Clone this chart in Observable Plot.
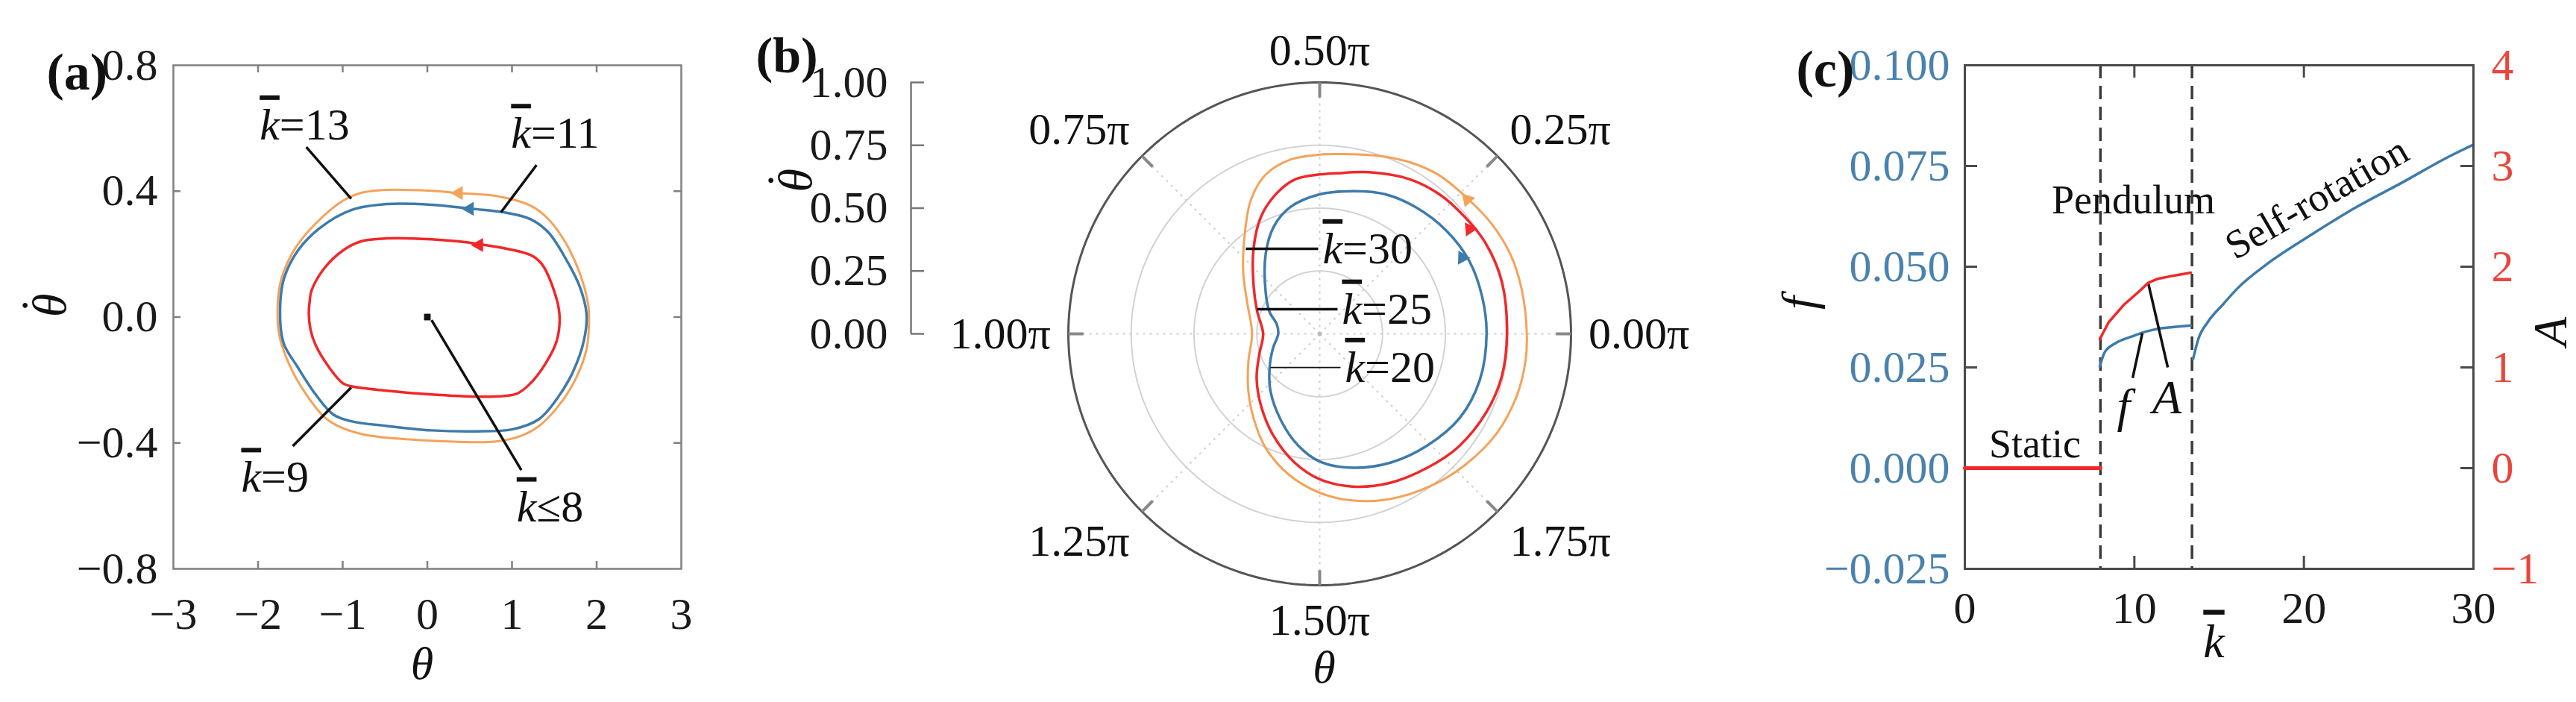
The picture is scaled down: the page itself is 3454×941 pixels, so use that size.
<!DOCTYPE html>
<html>
<head>
<meta charset="utf-8">
<script src="https://cdn.jsdelivr.net/npm/d3@7"></script>
<script src="https://cdn.jsdelivr.net/npm/@observablehq/plot@0.6"></script>
<style>
  html, body { margin: 0; padding: 0; background: #fff; }
  #root { position: relative; width: 3454px; height: 941px; overflow: hidden; background: #fff; }
  .panel { position: absolute; top: 0; }
  .panel svg { display: block; max-width: none !important; }
</style>
</head>
<body>
<div id="root"></div>
<script>
const KB = "k\u0304"; // k with bar (rendered as italic k with overline)

// ---------------- Panel (a): phase trajectories (theta, theta-dot) ----------------
const aThetaK9  = [-1.40,-1.39,-1.37,-1.22,-1.00,-0.79,-0.48,0.05,0.58,1.22,1.35,1.48,1.56,1.53,1.40,1.22,1.06,0.74,0.05,-0.48,-0.90,-1.00,-1.16,-1.32,-1.38];
const aDThetaK9 = [0.011,0.050,0.083,0.154,0.211,0.240,0.250,0.247,0.233,0.197,0.169,0.097,0.011,-0.074,-0.146,-0.210,-0.243,-0.253,-0.246,-0.234,-0.220,-0.210,-0.160,-0.089,-0.040];
const aThetaK11  = [-1.74,-1.73,-1.69,-1.53,-1.27,-0.90,-0.48,0.05,0.53,0.90,1.22,1.43,1.64,1.80,1.88,1.85,1.72,1.53,1.32,1.00,0.58,0.05,-0.48,-0.90,-1.11,-1.32,-1.53,-1.69,-1.73];
const aDThetaK11 = [0.011,0.070,0.126,0.211,0.283,0.340,0.359,0.357,0.344,0.333,0.311,0.269,0.183,0.097,0.011,-0.074,-0.174,-0.260,-0.324,-0.357,-0.363,-0.360,-0.346,-0.331,-0.310,-0.246,-0.160,-0.089,-0.040];
const aThetaK13  = [-1.77,-1.76,-1.72,-1.56,-1.32,-1.00,-0.79,-0.48,0.05,0.37,0.85,1.22,1.43,1.64,1.80,1.90,1.91,1.88,1.74,1.53,1.32,1.11,0.79,0.32,-0.21,-0.74,-1.06,-1.22,-1.43,-1.59,-1.72,-1.76];
const aDThetaK13 = [0.011,0.070,0.126,0.219,0.297,0.369,0.394,0.404,0.401,0.394,0.383,0.354,0.311,0.233,0.140,0.040,-0.017,-0.103,-0.203,-0.289,-0.346,-0.377,-0.396,-0.396,-0.389,-0.374,-0.346,-0.317,-0.246,-0.174,-0.089,-0.040];
const aFixedTheta = [0];   // k <= 8 : static equilibrium
const aFixedDTheta = [0];
const aArrowTheta  = [0.61, 0.50, 0.37];   // k = 9, 11, 13
const aArrowDTheta = [0.229, 0.344, 0.394];
const aXTicks = [-3, -2, -1, 0, 1, 2, 3];
const aYTicks = [-0.8, -0.4, 0, 0.4, 0.8];
const aNoteText = [KB + "=13", KB + "=11", KB + "=9", KB + "\u22648"];
const aNoteX  = [-1.45, 1.51, -1.80, 1.45];
const aNoteY  = [0.61, 0.583, -0.51, -0.603];
const aLeadX1 = [-1.43, 1.29, -1.59, 1.11];
const aLeadY1 = [0.54, 0.483, -0.41, -0.486];
const aLeadX2 = [-0.90, 0.87, -0.90, 0.05];
const aLeadY2 = [0.376, 0.333, -0.224, -0.01];

// ---------------- Panel (b): polar trajectories (theta in units of pi, radius = theta-dot) ----------------
const bT20 = [0,0.072,0.144,0.217,0.294,0.361,0.422,0.5,0.572,0.628,0.689,0.789,0.867,0.933,1.0,1.094,1.183,1.272,1.367,1.439,1.5,1.578,1.661,1.744,1.828,1.911];
const bR20 = [0.664,0.663,0.662,0.650,0.632,0.613,0.585,0.555,0.518,0.465,0.384,0.273,0.219,0.174,0.165,0.194,0.237,0.299,0.378,0.452,0.508,0.549,0.585,0.617,0.650,0.663];
const bT25 = [0,0.089,0.161,0.217,0.272,0.333,0.406,0.467,0.5,0.55,0.597,0.648,0.711,0.8,0.889,1.0,1.1,1.194,1.283,1.364,1.439,1.5,1.567,1.639,1.717,1.783,1.861,1.928];
const bR25 = [0.745,0.754,0.752,0.741,0.732,0.711,0.672,0.642,0.634,0.622,0.582,0.521,0.428,0.325,0.265,0.225,0.252,0.306,0.370,0.445,0.522,0.578,0.621,0.655,0.684,0.712,0.733,0.744];
const bT30 = [0,0.067,0.125,0.181,0.233,0.294,0.344,0.4,0.464,0.5,0.553,0.604,0.65,0.7,0.783,0.872,1.0,1.117,1.214,1.289,1.359,1.433,1.5,1.561,1.628,1.7,1.767,1.837,1.903,1.958];
const bR30 = [0.824,0.823,0.822,0.812,0.798,0.790,0.772,0.745,0.720,0.713,0.703,0.669,0.601,0.505,0.392,0.313,0.269,0.304,0.363,0.427,0.502,0.575,0.632,0.675,0.714,0.749,0.779,0.808,0.822,0.826];
const bArrowT = [0.156, 0.194, 0.235];   // k = 20, 25, 30
const bArrowR = [0.643, 0.727, 0.794];
const bRadialTicks = [0, 0.25, 0.5, 0.75, 1];
const bGridR = [0.25, 0.5, 0.75];
const bAngleTicks = [0, 0.25, 0.5, 0.75, 1, 1.25, 1.5, 1.75];
const bAngleLabels = ["0.00\u03c0", "0.25\u03c0", "0.50\u03c0", "0.75\u03c0", "1.00\u03c0", "1.25\u03c0", "1.50\u03c0", "1.75\u03c0"];
const bNoteText = [KB + "=30", KB + "=25", KB + "=20"];
const bLeadX1 = [-0.294, -0.249, -0.196];
const bLeadX2 = [-0.006, 0.071, 0.083];
const bLeadY  = [0.338, 0.098, -0.134];

// ---------------- Panel (c): frequency f and amplitude A vs k ----------------
const cKStatic = [0, 8];
const cAStatic = [0, 0];
const cKPendA = [7.96, 8.49, 9.37, 10.25, 10.82, 11.39, 12.27, 13.33];
const cAPend  = [1.28, 1.45, 1.62, 1.75, 1.84, 1.88, 1.91, 1.94];
const cKPendF = [7.96, 8.27, 8.93, 9.81, 10.69, 11.39, 12.27, 13.33];
const cFPend  = [0.0252, 0.0289, 0.0311, 0.0326, 0.0339, 0.0346, 0.0350, 0.0354];
const cKRot = [13.46, 13.77, 14.34, 15.22, 16.1, 17.9, 20.5, 23.1, 25.8, 28.4, 30];
const cFRot = [0.027, 0.032, 0.0363, 0.0406, 0.0447, 0.0509, 0.0581, 0.0648, 0.0709, 0.077, 0.0803];
const cBounds = [8, 13.4];
const cXTicks = [0, 10, 20, 30];
const cFTicks = [-0.025, 0, 0.025, 0.05, 0.075, 0.1];
const cATicks = [-1, 0, 1, 2, 3, 4];
const cRegimeText = ["Pendulum", "Static", "Self-rotation"];
const cRegimeK = [9.94, 4.13, 20.76];
const cRegimeF = [0.0665, 0.0059, 0.067];
const cNoteText = ["f", "A"];
const cNoteK = [9.37, 11.92];
const cNoteF = [0.0154, 0.0174];
const cLeadK1 = [9.90, 11.97];
const cLeadF1 = [0.0224, 0.025];
const cLeadK2 = [10.47, 10.82];
const cLeadF2 = [0.0335, 0.0459];

// ---------------- styling ----------------
const SERIF = "'Liberation Serif','Times New Roman',Times,serif";
const FS = 60;
const RED = "#f0282a", BLUE = "#3d7bab", ORANGE = "#f5a25a";
const AXBLUE = "#4a82ad", AXRED = "#e8463c";
const baseStyle = {fontFamily: SERIF, fontSize: FS + "px", background: "transparent", color: "#111", overflow: "visible"};
const H = 941;
const fmtInt = d3.format("d");

const zipPts = (xs, ys) => xs.map((x, i) => ({x, y: ys[i]}));
const root = document.getElementById("root");

function kbar(svg) {
  svg.querySelectorAll("text").forEach(el => {
    const s = el.textContent;
    if (!s.includes(KB) || el.querySelector("tspan")) return;
    el.textContent = "";
    s.split(KB).forEach((p, i) => {
      if (i > 0) {
        const ts = document.createElementNS("http://www.w3.org/2000/svg", "tspan");
        ts.setAttribute("style", "font-style:italic;text-decoration:overline;");
        ts.textContent = "k";
        el.appendChild(ts);
      }
      if (p) el.appendChild(document.createTextNode(p));
    });
  });
}
function mount(svg, left, width) {
  const div = document.createElement("div");
  div.className = "panel";
  div.style.left = left + "px";
  div.style.width = width + "px";
  svg.setAttribute("font-family", SERIF);
  svg.style.fontFamily = SERIF;
  svg.querySelectorAll("text").forEach(t => { t.style.fontFamily = SERIF; });
  kbar(svg);
  div.appendChild(svg);
  root.appendChild(div);
}
// theta-dot axis title: theta with a dot placed above it (title is rotated -90deg)
function thetaDot(opts) {
  return [
    Plot.text(["\u03b8"], {...opts, rotate: -90, fontStyle: "italic", fontSize: 64, fill: "#111"}),
    Plot.text(["\u02d9"], {...opts, dx: opts.dx - 16, dy: (opts.dy || 0) - 5, rotate: -90, fontSize: 64, fill: "#111"})
  ];
}

// ================= Panel (a) =================
{
  const W = 960, ML = 232, MR = 47, MT = 87, MB = 179;
  const IW = W - ML - MR, IH = H - MT - MB, TL = 10;
  const inX = aXTicks.slice(1, -1), inY = aYTicks.slice(1, -1);
  const frameColor = "#808080";
  const series = [
    {x: aThetaK13, y: aDThetaK13, c: ORANGE, w: 3},
    {x: aThetaK11, y: aDThetaK11, c: BLUE, w: 3.5},
    {x: aThetaK9,  y: aDThetaK9,  c: RED, w: 3.5}
  ];
  const arrowColors = [RED, BLUE, ORANGE];
  const notes = aNoteText.map((t, i) => ({t, x: aNoteX[i], y: aNoteY[i]}));
  const leads = aLeadX1.map((x1, i) => ({x1, y1: aLeadY1[i], x2: aLeadX2[i], y2: aLeadY2[i]}));
  const svg = Plot.plot({
    width: W, height: H, marginLeft: ML, marginRight: MR, marginTop: MT, marginBottom: MB,
    x: {domain: [-3, 3], axis: null}, y: {domain: [-0.8, 0.8], axis: null},
    style: baseStyle,
    marks: [
      ...series.map(s => Plot.line(zipPts(s.x, s.y), {x: "x", y: "y", stroke: s.c, strokeWidth: s.w, curve: "catmull-rom-closed"})),
      ...aArrowTheta.map((t, i) => Plot.dot([{x: t, y: aArrowDTheta[i]}], {x: "x", y: "y", symbol: "triangle", r: 7, fill: arrowColors[i], stroke: "none", rotate: -90})),
      Plot.dot(zipPts(aFixedTheta, aFixedDTheta), {x: "x", y: "y", symbol: "square", r: 5, fill: "#111"}),
      Plot.link(leads, {x1: "x1", y1: "y1", x2: "x2", y2: "y2", stroke: "#111", strokeWidth: 3.5}),
      Plot.text(notes, {x: "x", y: "y", text: "t", fontSize: FS, fill: "#111"}),
      Plot.frame({stroke: frameColor, strokeWidth: 2.5}),
      Plot.tickX(inX, {x: d => d, insetTop: IH - TL, stroke: frameColor, strokeWidth: 2.5}),
      Plot.tickX(inX, {x: d => d, insetBottom: IH - TL, stroke: frameColor, strokeWidth: 2.5}),
      Plot.tickY(inY, {y: d => d, insetRight: IW - TL, stroke: frameColor, strokeWidth: 2.5}),
      Plot.tickY(inY, {y: d => d, insetLeft: IW - TL, stroke: frameColor, strokeWidth: 2.5}),
      Plot.axisX(aXTicks, {anchor: "bottom", tickSize: 0, tickPadding: 38, tickFormat: fmtInt, label: null, color: "#1a1a1a"}),
      Plot.axisY(aYTicks, {anchor: "left", tickSize: 0, tickPadding: 21, tickFormat: d3.format(".1f"), label: null, color: "#1a1a1a"}),
      ...thetaDot({frameAnchor: "left", dx: -165, dy: 0}),
      Plot.text(["\u03b8"], {frameAnchor: "bottom", dx: -7, dy: 147, fontStyle: "italic", fontSize: 62, fill: "#111"}),
      Plot.text(["(a)"], {frameAnchor: "top-left", dx: -170, dy: -17, fontWeight: "bold", fontSize: 70, fill: "#111"})
    ]
  });
  mount(svg, 0, W);
}

// ================= Panel (b): radial axis =================
{
  const W = 260, ML = 221, MR = 19, MT = 110, MB = 494;
  const IW = W - ML - MR;
  const svg = Plot.plot({
    width: W, height: H, marginLeft: ML, marginRight: MR, marginTop: MT, marginBottom: MB,
    x: {domain: [0, 1], axis: null}, y: {domain: [0, 1], axis: null},
    style: baseStyle,
    marks: [
      Plot.ruleX([0], {y1: 0, y2: 1, stroke: "#777", strokeWidth: 2.5}),
      Plot.tickY(bRadialTicks, {y: d => d, insetRight: IW - 18, stroke: "#777", strokeWidth: 2.5}),
      Plot.axisY(bRadialTicks, {anchor: "left", tickSize: 0, tickPadding: 31, tickFormat: d3.format(".2f"), label: null, color: "#1a1a1a"}),
      ...thetaDot({frameAnchor: "top-left", dx: -179, dy: 147}),
      Plot.text(["(b)"], {frameAnchor: "top-left", dx: -208, dy: -62, fontWeight: "bold", fontSize: 68, fill: "#111"})
    ]
  });
  mount(svg, 1000, W);
}

// ================= Panel (b): polar plot =================
{
  const W = 1000, ML = 152, MR = 174, MT = 110, MB = 157;
  const PI = Math.PI;
  const px = d => d.r * Math.cos(d.t * PI);
  const py = d => d.r * Math.sin(d.t * PI);
  const circle = r => d3.range(0, 2.0001, 1 / 120).map(t => ({r, t}));
  const gridData = bGridR.flatMap(r => circle(r));
  const series = [
    {t: bT30, r: bR30, c: ORANGE, w: 3},
    {t: bT25, r: bR25, c: RED, w: 3.5},
    {t: bT20, r: bR20, c: BLUE, w: 3.5}
  ];
  const arrowColors = [BLUE, RED, ORANGE];
  const leads = bLeadX1.map((x1, i) => ({x1, x2: bLeadX2[i], y: bLeadY[i], t: bNoteText[i], w: i === 2 ? 1.8 : 3.5}));
  const LR = 1.07;
  const angleMarks = bAngleTicks.map((t, i) => {
    const c = Math.cos(t * PI), s = Math.sin(t * PI);
    return Plot.text([{t, r: LR, label: bAngleLabels[i]}], {
      x: px, y: py, text: "label", fontSize: FS, fill: "#111",
      textAnchor: c > 0.1 ? "start" : c < -0.1 ? "end" : "middle",
      lineAnchor: s > 0.1 ? "bottom" : s < -0.1 ? "top" : "middle"
    });
  });
  const svg = Plot.plot({
    width: W, height: H, marginLeft: ML, marginRight: MR, marginTop: MT, marginBottom: MB,
    x: {domain: [-1, 1], axis: null}, y: {domain: [-1, 1], axis: null},
    style: baseStyle,
    marks: [
      Plot.line(gridData, {x: px, y: py, z: "r", stroke: "#d2d2d2", strokeWidth: 2}),
      Plot.link(bAngleTicks.map(t => ({t})), {x1: 0, y1: 0, x2: d => Math.cos(d.t * PI), y2: d => Math.sin(d.t * PI), stroke: "#cfcfcf", strokeWidth: 2, strokeDasharray: "3,6"}),
      Plot.line(circle(1), {x: px, y: py, stroke: "#555", strokeWidth: 3}),
      Plot.link(bAngleTicks.map(t => ({t})), {x1: d => 0.94 * Math.cos(d.t * PI), y1: d => 0.94 * Math.sin(d.t * PI), x2: d => Math.cos(d.t * PI), y2: d => Math.sin(d.t * PI), stroke: "#888", strokeWidth: 4}),
      Plot.dot([{t: 0, r: 0}], {x: px, y: py, r: 3, fill: "#bbb"}),
      ...series.map(s => Plot.line(s.t.map((t, i) => ({t, r: s.r[i]})), {x: px, y: py, stroke: s.c, strokeWidth: s.w, curve: "catmull-rom-closed"})),
      ...bArrowT.map((t, i) => Plot.dot([{t, r: bArrowR[i]}], {x: px, y: py, symbol: "triangle", r: 7, fill: arrowColors[i], stroke: "none", rotate: -t * 180})),
      ...leads.map(l => Plot.link([l], {x1: "x1", x2: "x2", y1: "y", y2: "y", stroke: "#111", strokeWidth: l.w})),
      Plot.text(leads, {x: "x2", y: "y", text: "t", textAnchor: "start", dx: 6, fontSize: FS, fill: "#111"}),
      ...angleMarks,
      Plot.text(["\u03b8"], {frameAnchor: "bottom", dx: 6, dy: 130, fontStyle: "italic", fontSize: 62, fill: "#111"})
    ]
  });
  mount(svg, 1280, W);
}

// ================= Panel (c): f (left axis) =================
const cW = 1054, cML = 234, cMR = 138, cMT = 87, cMB = 179;
const cIW = cW - cML - cMR, cIH = H - cMT - cMB, cTL = 17;
const cFrame = "#4a4a4a";
{
  const inX = cXTicks.slice(1, -1), inF = cFTicks.slice(1, -1);
  const regimes = cRegimeText.map((t, i) => ({t, k: cRegimeK[i], f: cRegimeF[i]}));
  const notes = cNoteText.map((t, i) => ({t, k: cNoteK[i], f: cNoteF[i]}));
  const leads = cLeadK1.map((k1, i) => ({k1, f1: cLeadF1[i], k2: cLeadK2[i], f2: cLeadF2[i]}));
  const svg = Plot.plot({
    width: cW, height: H, marginLeft: cML, marginRight: cMR, marginTop: cMT, marginBottom: cMB,
    x: {domain: [0, 30], axis: null}, y: {domain: [-0.025, 0.1], axis: null},
    style: baseStyle,
    marks: [
      Plot.text(regimes.slice(0, 2), {x: "k", y: "f", text: "t", fontSize: 54, fill: "#111"}),
      Plot.text(regimes.slice(2), {x: "k", y: "f", text: "t", fontSize: 54, fill: "#111", rotate: -30}),
      Plot.ruleX(cBounds, {x: d => d, stroke: "#3a3a3a", strokeWidth: 3.5, strokeDasharray: "18,10"}),
      Plot.line(zipPts(cKPendF, cFPend), {x: "x", y: "y", stroke: BLUE, strokeWidth: 3.5, curve: "monotone-x"}),
      Plot.line(zipPts(cKRot, cFRot), {x: "x", y: "y", stroke: BLUE, strokeWidth: 3.5, curve: "monotone-x"}),
      Plot.link(leads, {x1: "k1", y1: "f1", x2: "k2", y2: "f2", stroke: "#111", strokeWidth: 3.5}),
      Plot.text(notes, {x: "k", y: "f", text: "t", fontSize: 64, fontStyle: "italic", fill: "#111"}),
      Plot.frame({stroke: cFrame, strokeWidth: 3}),
      Plot.tickX(inX, {x: d => d, insetTop: cIH - cTL, stroke: cFrame, strokeWidth: 3}),
      Plot.tickX(inX, {x: d => d, insetBottom: cIH - cTL, stroke: cFrame, strokeWidth: 3}),
      Plot.tickY(inF, {y: d => d, insetRight: cIW - cTL, stroke: cFrame, strokeWidth: 3}),
      Plot.axisX(cXTicks, {anchor: "bottom", tickSize: 0, tickPadding: 30, tickFormat: fmtInt, label: null, color: "#1a1a1a"}),
      Plot.axisY(cFTicks, {anchor: "left", tickSize: 0, tickPadding: 20, tickFormat: d3.format(".3f"), label: null, color: AXBLUE}),
      Plot.text(["f"], {frameAnchor: "left", dx: -222, dy: -10, rotate: -90, fontStyle: "italic", fontSize: 64, fill: "#111"}),
      Plot.text([KB], {frameAnchor: "bottom", dx: -7, dy: 118, fontSize: 64, fill: "#111"}),
      Plot.text(["(c)"], {frameAnchor: "top-left", dx: -226, dy: -21, fontWeight: "bold", fontSize: 70, fill: "#111"})
    ]
  });
  mount(svg, 2400, cW);
}

// ================= Panel (c): A (right axis) =================
{
  const inA = cATicks.slice(1, -1);
  const svg = Plot.plot({
    width: cW, height: H, marginLeft: cML, marginRight: cMR, marginTop: cMT, marginBottom: cMB,
    x: {domain: [0, 30], axis: null}, y: {domain: [-1, 4], axis: null},
    style: baseStyle,
    marks: [
      Plot.line(zipPts(cKStatic, cAStatic), {x: "x", y: "y", stroke: RED, strokeWidth: 5}),
      Plot.line(zipPts(cKPendA, cAPend), {x: "x", y: "y", stroke: RED, strokeWidth: 3.5}),
      Plot.tickY(inA, {y: d => d, insetLeft: cIW - cTL, stroke: cFrame, strokeWidth: 3}),
      Plot.axisY(cATicks, {anchor: "right", tickSize: 0, tickPadding: 24, tickFormat: fmtInt, label: null, color: AXRED}),
      Plot.text(["A"], {frameAnchor: "right", dx: 104, dy: 0, rotate: -90, fontStyle: "italic", fontSize: 64, fill: "#111"})
    ]
  });
  mount(svg, 2400, cW);
}
</script>
</body>
</html>
